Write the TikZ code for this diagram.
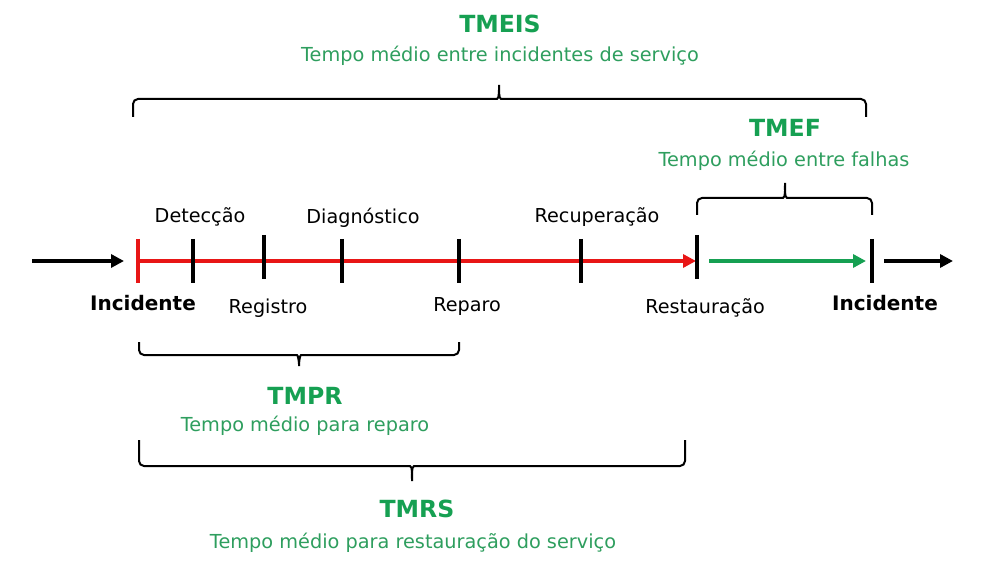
\documentclass[tikz,border=0pt]{standalone}
\usepackage{fontspec}
\setmainfont{DejaVu Sans}
\usetikzlibrary{arrows.meta}
\definecolor{tmgreen}{RGB}{22,160,82}
\definecolor{tmlight}{RGB}{46,158,94}
\definecolor{tmred}{RGB}{232,22,22}

\begin{document}
\begin{tikzpicture}[x=1pt, y=-1pt,
    axis/.style={line width=4pt, -{Triangle[length=13pt, width=13pt]}},
    tick/.style={line width=3.5pt},
    brace/.style={line width=2pt, rounded corners=5pt},
    lbl/.style={anchor=base, inner sep=0pt, font=\fontsize{19.2}{21}\selectfont},
    lblb/.style={anchor=base, inner sep=0pt, font=\fontsize{20}{22}\selectfont\bfseries},
    title/.style={anchor=base, inner sep=0pt, tmgreen, font=\fontsize{23.6}{26}\selectfont\bfseries},
    sub/.style={anchor=base, inner sep=0pt, tmlight, font=\fontsize{19.3}{21}\selectfont}]

    \useasboundingbox (0,0) rectangle (1001,577);

    \coordinate (s0) at (32,261);
    \coordinate (s1) at (124,261);
    \coordinate (Ia) at (138,261);
    \coordinate (Rs) at (696,261);
    \coordinate (g0) at (709,261);
    \coordinate (g1) at (866,261);
    \coordinate (e0) at (884,261);
    \coordinate (e1) at (953,261);

    % time line
    \draw[axis] (s0) -- (s1);
    \draw[axis, tmred] (Ia) -- (Rs);
    \draw[axis, tmgreen] (g0) -- (g1);
    \draw[axis] (e0) -- (e1);

    \draw[tick, tmred] (138,239) -- (138,283);
    \foreach \x/\a/\b in {193/239/283, 264/235/279, 342/239/283, 459/239/283,
                          581/239/283, 697/235/279, 872/239/283}
        \draw[tick] (\x,\a) -- (\x,\b);

    \node[lbl] (det) at (200,223) {Detecção};
    \node[lbl] (dia) at (363,224) {Diagnóstico};
    \node[lbl] (rec) at (597,223) {Recuperação};
    \node[lblb] (inc1) at (143,311) {Incidente};
    \node[lbl] (reg) at (268,313) {Registro};
    \node[lbl] (rep) at (467,312) {Reparo};
    \node[lbl] (res) at (705,313) {Restauração};
    \node[lblb] (inc2) at (885,311) {Incidente};

    % braces
    \draw[brace] (133,117) -- (133,99) -- (492,99) to[out=0, in=-90] (499,82)
        to[out=-90, in=180] (506,99) -- (866,99) -- (866,117);
    \draw[brace] (697,215) -- (697,198) -- (778,198) to[out=0, in=-90] (785,180)
        to[out=-90, in=180] (792,198) -- (872,198) -- (872,215);
    \draw[brace] (139,342) -- (139,355) -- (292,355) to[out=0, in=90] (299,369)
        to[out=90, in=180] (306,355) -- (459,355) -- (459,342);
    \draw[brace] (139,440) -- (139,466) -- (405,466) to[out=0, in=90] (412,484)
        to[out=90, in=180] (419,466) -- (685,466) -- (685,440);

    \node[title] (tmeis) at (500,33) {TMEIS};
    \node[sub] (tmeisT) at (500,62) {Tempo médio entre incidentes de serviço};
    \node[title] (tmef) at (785,137) {TMEF};
    \node[sub] (tmefT) at (784,167) {Tempo médio entre falhas};
    \node[title] (tmpr) at (305,404) {TMPR};
    \node[sub] (tmprT) at (305,431) {Tempo médio para reparo};
    \node[title] (tmrs) at (417,517) {TMRS};
    \node[sub] (tmrsT) at (413,548) {Tempo médio para restauração do serviço};

\end{tikzpicture}
\end{document}
